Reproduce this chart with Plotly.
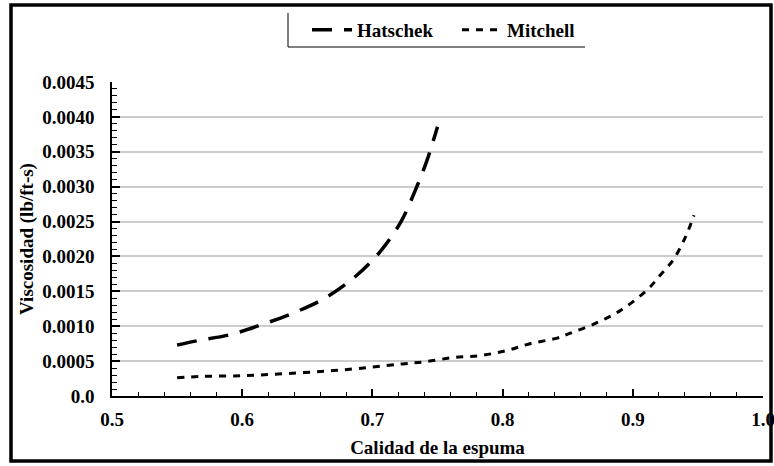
import plotly.graph_objects as go

# Foam quality vs. viscosity for two foam-viscosity correlations
hatschek_x = [0.550, 0.565, 0.591, 0.616, 0.642, 0.666, 0.688, 0.706, 0.722, 0.733, 0.742, 0.750]
hatschek_y = [0.00073, 0.00079, 0.00088, 0.00103, 0.00121, 0.00143, 0.00173, 0.00207, 0.00250, 0.00295, 0.00338, 0.00386]

mitchell_x = [0.550, 0.568, 0.600, 0.633, 0.667, 0.698, 0.723, 0.740, 0.762, 0.783, 0.803, 0.821,
              0.842, 0.852, 0.870, 0.890, 0.911, 0.921, 0.931, 0.940, 0.947]
mitchell_y = [0.00026, 0.00028, 0.00029, 0.00032, 0.00036, 0.00041, 0.00046, 0.00049, 0.00055, 0.00058,
              0.00065, 0.00075, 0.00083, 0.00090, 0.00103, 0.00122, 0.00152, 0.00173, 0.00195, 0.00226, 0.00259]

x_ticks = [0.5, 0.6, 0.7, 0.8, 0.9, 1.0]
x_labels = ["0.5", "0.6", "0.7", "0.8", "0.9", "1.0"]
y_ticks = [0.0, 0.0005, 0.0010, 0.0015, 0.0020, 0.0025, 0.0030, 0.0035, 0.0040, 0.0045]
y_labels = ["0.0", "0.0005", "0.0010", "0.0015", "0.0020", "0.0025", "0.0030", "0.0035", "0.0040", "0.0045"]

FONT = "Liberation Serif"

fig = go.Figure()
fig.add_trace(go.Scatter(x=hatschek_x, y=hatschek_y, mode="lines", name="<b>Hatschek</b>",
                         line=dict(color="black", width=3.5, dash="20px,12px"), line_shape="spline"))
fig.add_trace(go.Scatter(x=mitchell_x, y=mitchell_y, mode="lines", name="<b>Mitchell</b>",
                         line=dict(color="black", width=3, dash="7px,7px"), line_shape="spline"))

W, H = 774, 466
L, R, T, B = 112, 11, 82, 70
pw, ph = W - L - R, H - T - B

def px_x(p):
    return (p - L) / pw

def px_y(p):
    return (H - B - p) / ph

shapes = [
    # outer frame
    dict(type="rect", xref="paper", yref="paper", x0=px_x(11), x1=px_x(771), y0=px_y(461), y1=px_y(5),
         line=dict(color="black", width=3.5), layer="above"),
    # legend frame (left and bottom edges)
    dict(type="line", xref="paper", yref="paper", x0=px_x(288), x1=px_x(288), y0=px_y(13), y1=px_y(47),
         line=dict(color="black", width=1)),
    dict(type="line", xref="paper", yref="paper", x0=px_x(288), x1=px_x(585), y0=px_y(47), y1=px_y(47),
         line=dict(color="black", width=1)),
]

fig.update_layout(
    width=W, height=H,
    margin=dict(l=L, r=R, t=T, b=B),
    paper_bgcolor="white", plot_bgcolor="white",
    font=dict(family=FONT, size=19, color="black"),
    showlegend=True,
    legend=dict(orientation="h", x=px_x(307), y=px_y(11), xanchor="left", yanchor="top",
                font=dict(family=FONT, size=19, color="black"), bgcolor="rgba(0,0,0,0)",
                itemwidth=40, tracegroupgap=0, entrywidth=95, entrywidthmode="pixels"),
    shapes=shapes,
    xaxis=dict(range=[0.5, 1.0], tickvals=x_ticks, ticktext=[f"<b>{t}</b>" for t in x_labels],
               tickfont=dict(family=FONT, size=19), ticklabeloverflow="allow",
               showgrid=False, zeroline=False, showline=True, linecolor="black", linewidth=1.5,
               ticks="inside", ticklen=7, tickwidth=1.5, tickcolor="black", ticklabelstandoff=5,
               minor=dict(dtick=0.02, ticks="inside", ticklen=4, tickwidth=1, tickcolor="black", showgrid=False),
               title=dict(text="<b>Calidad de la espuma</b>", font=dict(family=FONT, size=19), standoff=12),
               automargin=False),
    yaxis=dict(range=[0, 0.0045], tickvals=y_ticks, ticktext=[f"<b>{t}</b>" for t in y_labels],
               tickfont=dict(family=FONT, size=19),
               showgrid=True, gridcolor="#cccccc", gridwidth=1.5, zeroline=False,
               showline=True, linecolor="black", linewidth=1.5,
               ticks="inside", ticklen=8, tickwidth=1.5, tickcolor="black", ticklabelstandoff=12,
               minor=dict(dtick=0.0001, ticks="inside", ticklen=5, tickwidth=1, tickcolor="black", showgrid=False),
               title=dict(text="<b>Viscosidad (lb/ft-s)</b>", font=dict(family=FONT, size=19), standoff=4),
               automargin=False),
)

fig.write_html("out.html")
